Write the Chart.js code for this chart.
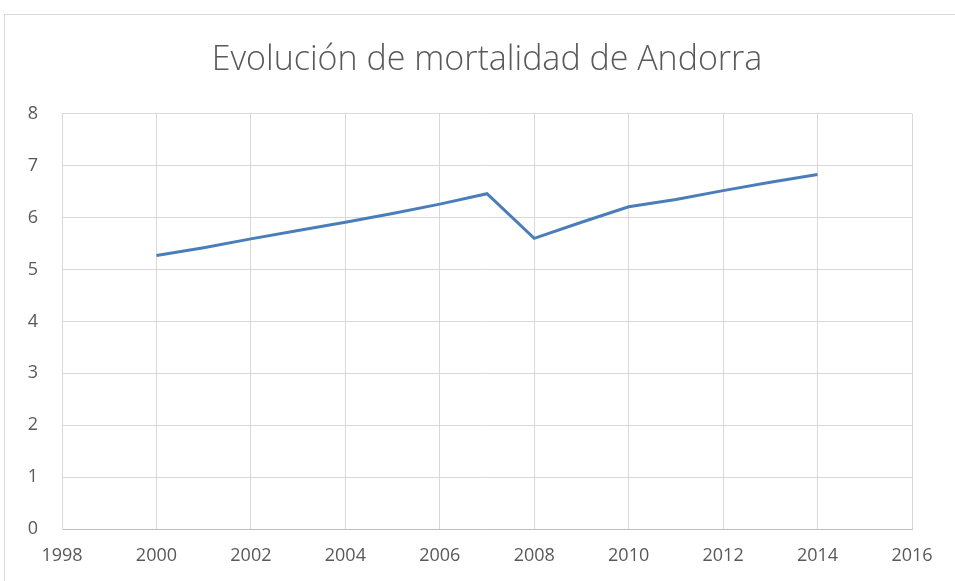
<!DOCTYPE html>
<html>
<head>
<meta charset="utf-8">
<script src="https://cdn.jsdelivr.net/npm/chart.js@4.4.1/dist/chart.umd.min.js"></script>
<style>
    body { margin: 0; background: #fff; overflow: hidden; }
    .frame {
        position: absolute; left: 4px; top: 14px;
        width: 980px; height: 600px;
        border: 1px solid #d9d9d9;
    }
    #mortalityChart { position: absolute; left: 0; top: 0; }
</style>
</head>
<body>
<div class="frame"></div>
<canvas id="mortalityChart" width="955" height="581"></canvas>
<script>
// Data
const years = [2000, 2001, 2002, 2003, 2004, 2005, 2006, 2007, 2008, 2009, 2010, 2011, 2012, 2013, 2014];
const mortality = [5.27, 5.42, 5.59, 5.75, 5.91, 6.08, 6.26, 6.46, 5.60, 5.91, 6.21, 6.35, 6.52, 6.68, 6.83];
const xTicks = [1998, 2000, 2002, 2004, 2006, 2008, 2010, 2012, 2014, 2016];
const yTicks = [0, 1, 2, 3, 4, 5, 6, 7, 8];

const textColor = '#595959';
const gridColor = '#d9d9d9';

const points = years.map((year, i) => ({ x: year, y: mortality[i] }));

const ctx = document.getElementById('mortalityChart').getContext('2d');

new Chart(ctx, {
    type: 'line',
    data: {
        datasets: [{
            data: points,
            borderColor: '#4a7ebb',
            borderWidth: 3,
            pointRadius: 0,
            tension: 0,
            fill: false
        }]
    },
    options: {
        responsive: false,
        animation: false,
        layout: {
            padding: { left: 0, right: 43, top: 0, bottom: 0 }
        },
        plugins: {
            legend: { display: false },
            tooltip: { enabled: false },
            title: {
                display: true,
                // centre over the plot area, not the whole canvas
                fullSize: false,
                text: 'Evolución de mortalidad de Andorra',
                color: textColor,
                font: { family: 'Open Sans', size: 34, weight: '300' },
                padding: { top: 40, bottom: 33 }
            }
        },
        scales: {
            x: {
                type: 'linear',
                min: xTicks[0],
                max: xTicks[xTicks.length - 1],
                afterBuildTicks: (axis) => {
                    axis.ticks = xTicks.map(v => ({ value: v }));
                },
                afterFit: (axis) => { axis.height = 52; },
                grid: { color: gridColor, drawTicks: false },
                border: { color: '#bfbfbf' },
                ticks: {
                    color: textColor,
                    padding: 16,
                    maxRotation: 0,
                    font: { family: 'Open Sans', size: 18 },
                    callback: (value) => String(value)
                }
            },
            y: {
                min: yTicks[0],
                max: yTicks[yTicks.length - 1],
                afterBuildTicks: (axis) => {
                    axis.ticks = yTicks.map(v => ({ value: v }));
                },
                afterFit: (axis) => { axis.width = 62; },
                grid: { color: gridColor, drawTicks: false },
                border: { color: gridColor },
                ticks: {
                    color: textColor,
                    padding: 24,
                    font: { family: 'Open Sans', size: 18 }
                }
            }
        }
    }
});
</script>
</body>
</html>
